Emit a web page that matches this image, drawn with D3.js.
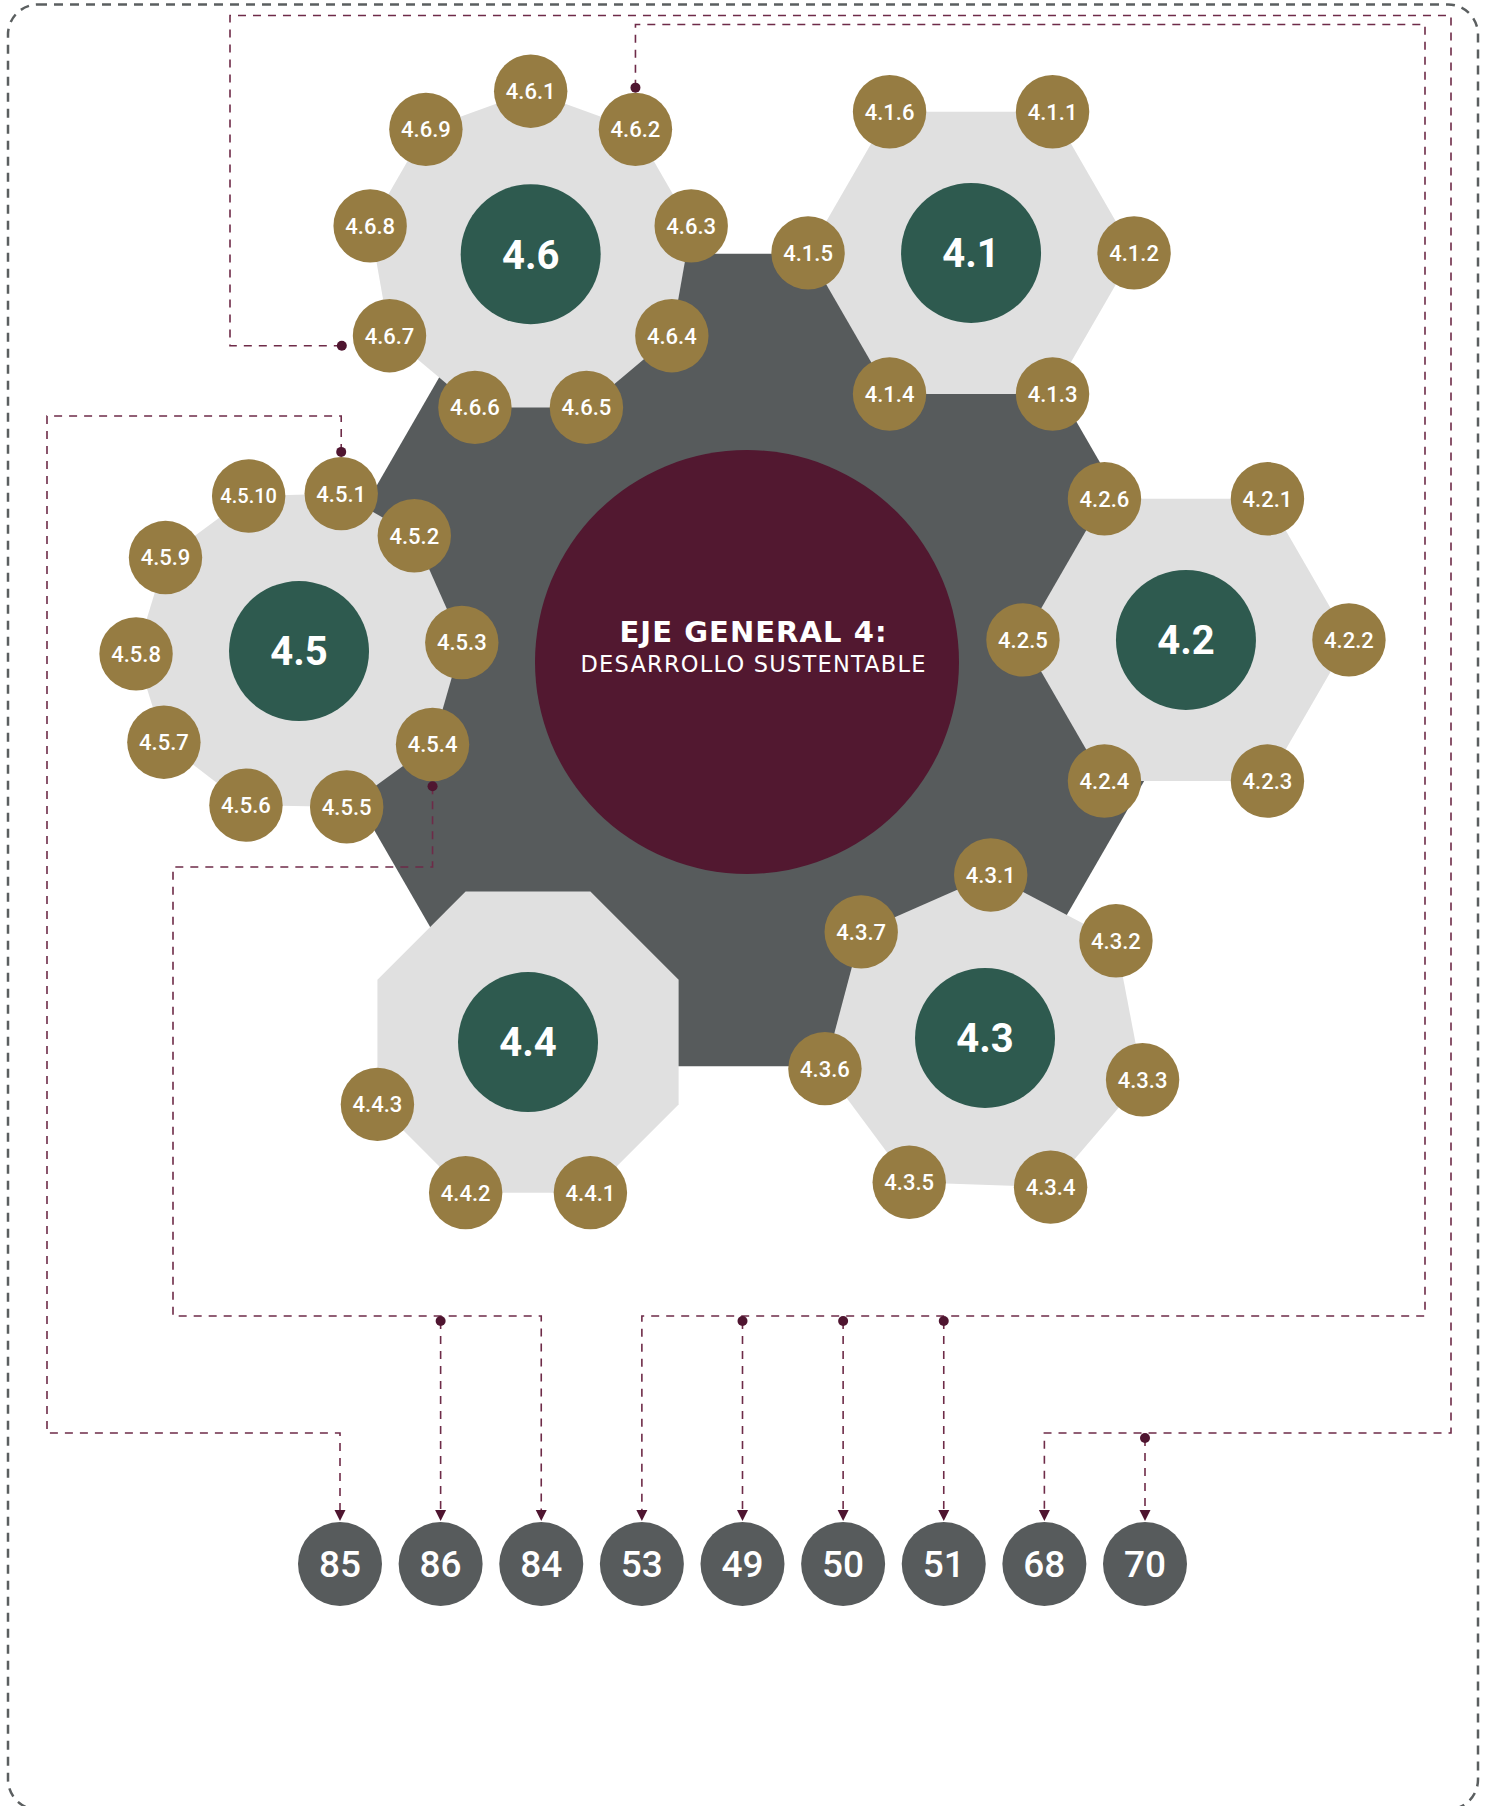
<!DOCTYPE html>
<html>
<head>
<meta charset="utf-8">
<script src="https://cdn.jsdelivr.net/npm/d3@7"></script>
<style>
  body { margin: 0; background: #fff; }
  svg { display: block; }
</style>
</head>
<body>
<script>
var width = 1488, height = 1806;

// --- datos ---
var title = 'EJE GENERAL 4:';
var subtitle = 'DESARROLLO SUSTENTABLE';

var groups = ['4.1', '4.2', '4.3', '4.4', '4.5', '4.6'];
var groupSides = [6, 6, 7, 8, 10, 9];
var groupItems = [
  ['4.1.1', '4.1.2', '4.1.3', '4.1.4', '4.1.5', '4.1.6'],
  ['4.2.1', '4.2.2', '4.2.3', '4.2.4', '4.2.5', '4.2.6'],
  ['4.3.1', '4.3.2', '4.3.3', '4.3.4', '4.3.5', '4.3.6', '4.3.7'],
  ['4.4.1', '4.4.2', '4.4.3'],
  ['4.5.1', '4.5.2', '4.5.3', '4.5.4', '4.5.5', '4.5.6', '4.5.7', '4.5.8', '4.5.9', '4.5.10'],
  ['4.6.1', '4.6.2', '4.6.3', '4.6.4', '4.6.5', '4.6.6', '4.6.7', '4.6.8', '4.6.9']
];
var targets = ['85', '86', '84', '53', '49', '50', '51', '68', '70'];
var links = [
  {source: '4.6.7', targets: ['68', '70']},
  {source: '4.6.2', targets: ['53', '49', '50', '51']},
  {source: '4.5.1', targets: ['85']},
  {source: '4.5.4', targets: ['86', '84']}
];

// --- layout ---
var hub = {x: 745, y: 660, r: 469, circle: 212};
var ring = {x: 750, y: 646};
var ringDist = [451, 436, 457, 454, 451, 449];
var ringTweak = [-0.65, -0.8, -0.95, -0.73, -0.64, 0.76];
var polyR = 163, itemR = 36.7, groupR = 70, targetR = 42;
var firstVertex = [-60, -60, -88, -22.5, -73, -90];
var firstItemVertex = [0, 0, 0, 2, 0, 0];
// el decágono 4.5 no es regular en el original
var vertexAngles = {'4.5': [-75, -45, -3, 35, 73, 109, 146, 179, 215, 252]};
var routes = {
  '4.6.7': {exit: 'left', lanes: [230, 15.5, 1451, 1433]},
  '4.6.2': {exit: 'top', lanes: [24.5, 1425, 1316]},
  '4.5.1': {exit: 'top', lanes: [416, 47, 1433]},
  '4.5.4': {exit: 'bottom', lanes: [867, 173, 1316]}
};

var C = {
  hex: '#575b5c', poly: '#e0e0e0', green: '#2e5a4f', gold: '#967c42',
  maroon: '#521830', line: '#6e2b48', dot: '#4f1530', border: '#5b5f60'
};

var rad = Math.PI / 180;
function polar(cx, cy, r, deg) {
  return [cx + r * Math.cos(deg * rad), cy + r * Math.sin(deg * rad)];
}

var svg = d3.select('body').append('svg')
  .attr('width', width)
  .attr('height', height);

// borde exterior
svg.append('rect')
  .attr('x', 8).attr('y', 4.5)
  .attr('width', 1470).attr('height', 1805)
  .attr('rx', 30)
  .attr('fill', 'none')
  .attr('stroke', C.border)
  .attr('stroke-width', 2.5)
  .attr('stroke-dasharray', '9,7');

// hexagono central
var hexPts = d3.range(6).map(i => polar(hub.x, hub.y, hub.r, i * 60));
svg.append('polygon')
  .attr('points', hexPts.map(p => p.join(',')).join(' '))
  .attr('fill', C.hex);

// grupos
var groupData = groups.map(function(g, k) {
  var c = polar(ring.x, ring.y, ringDist[k], -60 + 60 * k + ringTweak[k]);
  var n = groupSides[k];
  var angs = vertexAngles[g] || d3.range(n).map(i => firstVertex[k] + i * 360 / n);
  var verts = angs.map(a => polar(c[0], c[1], polyR, a));
  var items = groupItems[k].map(function(lbl, j) {
    var v = verts[(firstItemVertex[k] + j) % n];
    return {label: lbl, x: v[0], y: v[1]};
  });
  return {label: g, x: c[0], y: c[1], verts: verts, items: items};
});

var itemPos = {};
groupData.forEach(g => g.items.forEach(it => itemPos[it.label] = it));

svg.append('g').selectAll('polygon')
  .data(groupData).enter().append('polygon')
    .attr('points', d => d.verts.map(p => p.join(',')).join(' '))
    .attr('fill', C.poly);

// circulo central
svg.append('circle')
  .attr('cx', hub.x + 2).attr('cy', hub.y + 2)
  .attr('r', hub.circle)
  .attr('fill', C.maroon);

svg.append('text')
  .attr('x', 753).attr('y', 642)
  .attr('text-anchor', 'middle')
  .attr('textLength', 267)
  .attr('lengthAdjust', 'spacing')
  .style('font-family', '"DejaVu Sans", sans-serif')
  .style('font-weight', 700)
  .style('font-size', '29px')
  .attr('fill', '#fff')
  .text(title);

svg.append('text')
  .attr('x', 753).attr('y', 672)
  .attr('text-anchor', 'middle')
  .attr('textLength', 345)
  .attr('lengthAdjust', 'spacing')
  .style('font-family', '"DejaVu Sans", sans-serif')
  .style('font-weight', 400)
  .style('font-size', '22.5px')
  .attr('fill', '#fff')
  .text(subtitle);

// circulos verdes
var gG = svg.append('g').selectAll('g')
  .data(groupData).enter().append('g')
    .attr('transform', d => `translate(${d.x},${d.y})`);
gG.append('circle').attr('r', groupR).attr('fill', C.green);
gG.append('text')
  .attr('text-anchor', 'middle')
  .attr('dy', '0.36em')
  .style('font-family', 'Roboto, sans-serif')
  .style('font-weight', 700)
  .style('font-size', '40px')
  .attr('fill', '#fff')
  .text(d => d.label);

// estrategias
var allItems = d3.merge(groupData.map(g => g.items));
var iG = svg.append('g').selectAll('g')
  .data(allItems).enter().append('g')
    .attr('transform', d => `translate(${d.x},${d.y})`);
iG.append('circle').attr('r', itemR).attr('fill', C.gold);
iG.append('text')
  .attr('text-anchor', 'middle')
  .attr('dy', '0.36em')
  .style('font-family', 'Roboto, sans-serif')
  .style('font-weight', 500)
  .style('font-size', d => d.label.length > 5 ? '20px' : '22px')
  .attr('fill', '#fff')
  .text(d => d.label);

// destinos
var x = d3.scalePoint().domain(targets).range([340, 1145]);
var targetY = 1564;
var arrowTip = targetY - targetR - 1, arrowBase = arrowTip - 11;

var tG = svg.append('g').selectAll('g')
  .data(targets).enter().append('g')
    .attr('transform', d => `translate(${x(d)},${targetY})`);
tG.append('circle').attr('r', targetR).attr('fill', C.hex);
tG.append('text')
  .attr('text-anchor', 'middle')
  .attr('dy', '0.36em')
  .style('font-family', 'Roboto, sans-serif')
  .style('font-weight', 500)
  .style('font-size', '37px')
  .attr('fill', '#fff')
  .text(d => d);

// conectores
function sourceDot(s, exit) {
  if (exit === 'left') return {x: s.x - itemR - 11, y: s.y + 10};
  if (exit === 'top') return {x: s.x, y: s.y - itemR - 5};
  return {x: s.x, y: s.y + itemR + 5};
}

var line = d3.line();
var lG = svg.append('g');
var dots = [];

links.forEach(function(link) {
  var rt = routes[link.source];
  var p = sourceDot(itemPos[link.source], rt.exit);
  dots.push(p);
  var pts = [[p.x, p.y]];
  var horiz = rt.exit === 'left';
  var cx = p.x, cy = p.y;
  rt.lanes.forEach(function(v) {
    if (horiz) cx = v; else cy = v;
    pts.push([cx, cy]);
    horiz = !horiz;
  });
  var xs = link.targets.map(t => x(t));
  var lo = d3.min(xs), hi = d3.max(xs);
  var far = Math.abs(hi - cx) > Math.abs(lo - cx) ? hi : lo;
  pts.push([far, cy]);
  pts.push([far, arrowBase]);
  lG.append('path')
    .attr('d', line(pts))
    .attr('fill', 'none')
    .attr('stroke', C.line)
    .attr('stroke-width', 1.6)
    .attr('stroke-dasharray', '8,7');

  link.targets.forEach(function(t) {
    var tx = x(t);
    if (tx !== far) {
      lG.append('path')
        .attr('d', line([[tx, cy + 5], [tx, arrowBase]]))
        .attr('fill', 'none')
        .attr('stroke', C.line)
        .attr('stroke-width', 1.6)
        .attr('stroke-dasharray', '8,7');
      dots.push({x: tx, y: cy + 5});
    }
    lG.append('path')
      .attr('d', `M${tx - 5.5},${arrowBase} L${tx + 5.5},${arrowBase} L${tx},${arrowTip} Z`)
      .attr('fill', C.dot);
  });
});

lG.selectAll('circle.dot')
  .data(dots).enter().append('circle')
    .attr('class', 'dot')
    .attr('cx', d => d.x).attr('cy', d => d.y)
    .attr('r', 5)
    .attr('fill', C.dot);
</script>
</body>
</html>
